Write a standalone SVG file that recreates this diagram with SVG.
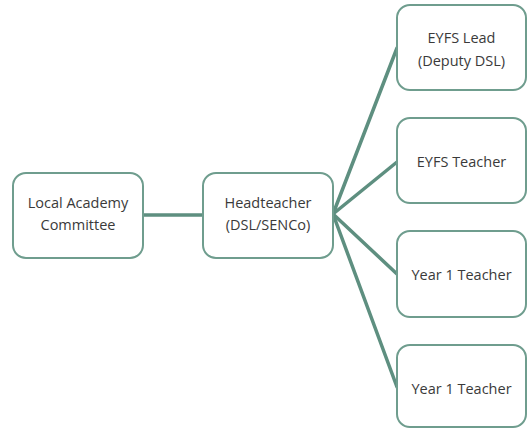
<svg xmlns="http://www.w3.org/2000/svg" width="528" height="430" viewBox="0 0 528 430">
  <style>
    .box { fill: #ffffff; stroke: #6f9d8e; stroke-width: 2; }
    .label { font-family: "Open Sans", "Noto Sans", sans-serif; font-size: 14.5px; fill: #3a3a3a; text-anchor: middle; }
    .link { stroke: #5e8f80; stroke-width: 3.5; fill: none; stroke-linecap: round; }
  </style>
  <rect width="528" height="430" fill="#ffffff"/>

  <!-- connectors -->
  <g id="connectors">
    <line class="link" x1="143" y1="215" x2="203" y2="215"/>
    <line class="link" x1="333" y1="214" x2="397" y2="48"/>
    <line class="link" x1="333" y1="214" x2="397" y2="162"/>
    <line class="link" x1="333" y1="214" x2="397" y2="274"/>
    <line class="link" x1="333" y1="214" x2="397" y2="387"/>
  </g>

  <!-- nodes -->
  <g id="local-academy-committee">
    <rect class="box" x="13" y="173" width="130" height="85" rx="13"/>
    <text class="label" x="78" y="208">Local Academy</text>
    <text class="label" x="78" y="230">Committee</text>
  </g>

  <g id="headteacher">
    <rect class="box" x="203" y="173" width="130" height="85" rx="13"/>
    <text class="label" x="268" y="208">Headteacher</text>
    <text class="label" x="268" y="230">(DSL/SENCo)</text>
  </g>

  <g id="eyfs-lead">
    <rect class="box" x="397" y="5" width="129" height="85" rx="13"/>
    <text class="label" x="461.5" y="43">EYFS Lead</text>
    <text class="label" x="461.5" y="66">(Deputy DSL)</text>
  </g>

  <g id="eyfs-teacher">
    <rect class="box" x="397" y="118" width="129" height="85" rx="13"/>
    <text class="label" x="461.5" y="167">EYFS Teacher</text>
  </g>

  <g id="year1-teacher-a">
    <rect class="box" x="397" y="231" width="129" height="86" rx="13"/>
    <text class="label" x="461.5" y="280">Year 1 Teacher</text>
  </g>

  <g id="year1-teacher-b">
    <rect class="box" x="397" y="345" width="129" height="82" rx="13"/>
    <text class="label" x="461.5" y="394">Year 1 Teacher</text>
  </g>
</svg>
